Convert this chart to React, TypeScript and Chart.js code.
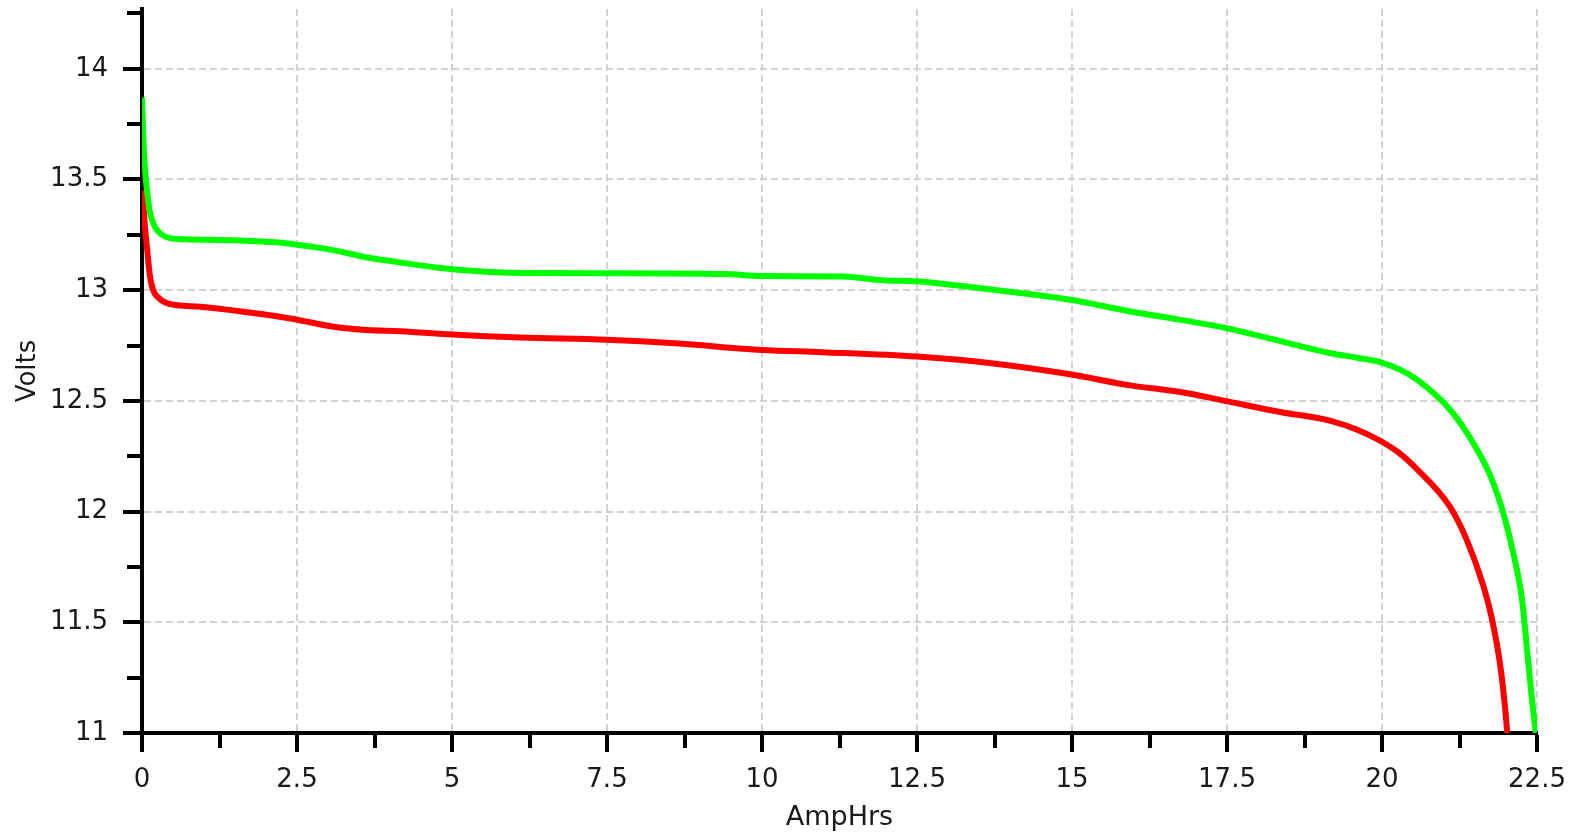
import React, { useEffect, useRef } from "react";
import { Chart, registerables } from "chart.js";

Chart.register(...registerables);

// ---- Data ----
const greenAmpHrs = [
  0, 0.02, 0.04, 0.08, 0.13, 0.2, 0.3, 0.45, 0.7, 1.5, 2.2, 2.5, 3.1, 3.6, 4.17, 5.0, 6.2, 7.5, 9.4, 10,
  11.3, 11.95, 12.5, 13.2, 13.8, 14.97, 15.94, 16.75, 17.47, 18.36, 19.17, 19.6, 19.97, 20.3, 20.57, 21.1,
  21.47, 21.75, 21.96, 22.12, 22.26, 22.34, 22.42, 22.48,
];
const greenVolts = [
  13.87, 13.7, 13.58, 13.45, 13.35, 13.29, 13.255, 13.235, 13.23, 13.225, 13.215, 13.205, 13.18, 13.15,
  13.125, 13.095, 13.078, 13.077, 13.073, 13.064, 13.062, 13.045, 13.04, 13.02, 13.0, 12.957, 12.904,
  12.866, 12.83, 12.77, 12.715, 12.695, 12.675, 12.64, 12.595, 12.46, 12.31, 12.16, 11.99, 11.81, 11.6,
  11.375, 11.15, 11.0,
];

const redAmpHrs = [
  0, 0.02, 0.05, 0.085, 0.13, 0.18, 0.25, 0.41, 0.94, 1.7, 2.44, 3.09, 3.63, 4.17, 5.0, 6.1, 7.5, 8.6,
  10, 10.97, 12.5, 13.7, 14.97, 15.94, 16.75, 17.47, 18.36, 19.17, 19.6, 19.97, 20.3, 20.57, 21.1, 21.37,
  21.64, 21.77, 21.91, 21.99, 22.02,
];
const redVolts = [
  13.45, 13.4, 13.28, 13.18, 13.06, 13.0, 12.97, 12.94, 12.925, 12.9, 12.87, 12.835, 12.82, 12.815, 12.8,
  12.786, 12.776, 12.76, 12.73, 12.72, 12.7, 12.67, 12.62, 12.57, 12.54, 12.5, 12.45, 12.41, 12.37,
  12.32, 12.26, 12.19, 12.02, 11.87, 11.66, 11.52, 11.3, 11.1, 11.0,
];

const xTickValues = [0, 2.5, 5, 7.5, 10, 12.5, 15, 17.5, 20, 22.5];
const xMinorTicks = [1.25, 3.75, 6.25, 8.75, 11.25, 13.75, 16.25, 18.75, 21.25];
const yTickValues = [11, 11.5, 12, 12.5, 13, 13.5, 14];
const yMinorTicks = [11.25, 11.75, 12.25, 12.75, 13.25, 13.75, 14.25];

const X_MIN = 0;
const X_MAX = 22.5;
const Y_MIN = 11;
const Y_MAX = 14.27;

const AXIS_COLOR = "#000000";
const TEXT_COLOR = "#1a1a1a";
const GRID_COLOR = "#d2d2d2";
const FONT = "'DejaVu Sans', sans-serif";

const minorTickPlugin = {
  id: "minorTicks",
  afterDraw(chart: any) {
    const ctx = chart.ctx;
    const xs = chart.scales.x;
    const ys = chart.scales.y;
    ctx.save();
    ctx.strokeStyle = AXIS_COLOR;
    ctx.lineWidth = 4;
    ctx.beginPath();
    for (const v of xMinorTicks) {
      const px = Math.round(xs.getPixelForValue(v));
      ctx.moveTo(px, xs.top + 2);
      ctx.lineTo(px, xs.top + 2 + 13);
    }
    for (const v of yMinorTicks) {
      const py = Math.round(ys.getPixelForValue(v));
      ctx.moveTo(ys.right - 2, py);
      ctx.lineTo(ys.right - 2 - 13, py);
    }
    ctx.stroke();
    ctx.restore();
  },
};

export default function App() {
  const canvasRef = useRef<HTMLCanvasElement | null>(null);

  useEffect(() => {
    if (!canvasRef.current) return;
    const chart = new Chart(canvasRef.current, {
      type: "line",
      data: {
        datasets: [
          {
            label: "Series 1",
            data: greenAmpHrs.map((x, i) => ({ x, y: greenVolts[i] })),
            borderColor: "#00ff00",
            backgroundColor: "#00ff00",
            borderWidth: 6,
            pointRadius: 0,
            cubicInterpolationMode: "monotone",
          },
          {
            label: "Series 2",
            data: redAmpHrs.map((x, i) => ({ x, y: redVolts[i] })),
            borderColor: "#ff0000",
            backgroundColor: "#ff0000",
            borderWidth: 6,
            pointRadius: 0,
            cubicInterpolationMode: "monotone",
          },
        ],
      },
      options: {
        responsive: false,
        animation: false,
        layout: { padding: { top: 9, right: 39, left: 0, bottom: 0 } },
        plugins: {
          legend: { display: false },
          tooltip: { enabled: false },
        },
        scales: {
          x: {
            type: "linear",
            min: X_MIN,
            max: X_MAX,
            afterBuildTicks: (scale: any) => {
              scale.ticks = xTickValues.map((v) => ({ value: v }));
            },
            afterFit: (scale: any) => {
              scale.height = 101;
              scale.paddingLeft = 0;
              scale.paddingRight = 0;
            },
            ticks: {
              autoSkip: false,
              maxRotation: 0,
              padding: 13,
              color: TEXT_COLOR,
              font: { family: FONT, size: 26 },
              callback: (v: any) => String(v),
            },
            grid: {
              color: GRID_COLOR,
              lineWidth: 2,
              drawTicks: true,
              tickLength: 19,
              tickColor: AXIS_COLOR,
              tickWidth: 4,
            },
            border: { display: true, color: AXIS_COLOR, width: 4, dash: [7, 4] },
            title: {
              display: true,
              text: "AmpHrs",
              color: TEXT_COLOR,
              font: { family: FONT, size: 27 },
              padding: { top: 0, bottom: 0 },
            },
          },
          y: {
            type: "linear",
            min: Y_MIN,
            max: Y_MAX,
            afterBuildTicks: (scale: any) => {
              scale.ticks = yTickValues.map((v) => ({ value: v }));
            },
            afterFit: (scale: any) => {
              scale.width = 142;
              scale.paddingTop = 0;
              scale.paddingBottom = 0;
            },
            ticks: {
              autoSkip: false,
              padding: 15,
              color: TEXT_COLOR,
              font: { family: FONT, size: 26 },
              callback: (v: any) => String(v),
            },
            grid: {
              color: GRID_COLOR,
              lineWidth: 2,
              drawTicks: true,
              tickLength: 19,
              tickColor: AXIS_COLOR,
              tickWidth: 4,
            },
            border: { display: true, color: AXIS_COLOR, width: 4, dash: [7, 4] },
            title: {
              display: true,
              text: "Volts",
              color: TEXT_COLOR,
              font: { family: FONT, size: 26 },
              padding: { top: 13, bottom: 0 },
            },
          },
        },
      },
      plugins: [minorTickPlugin],
    } as any);
    return () => chart.destroy();
  }, []);

  return (
    <div
      style={{
        position: "fixed",
        left: 0,
        top: 0,
        width: 1576,
        height: 834,
        background: "#ffffff",
      }}
    >
      <canvas ref={canvasRef} width={1576} height={834} style={{ display: "block" }} />
    </div>
  );
}
